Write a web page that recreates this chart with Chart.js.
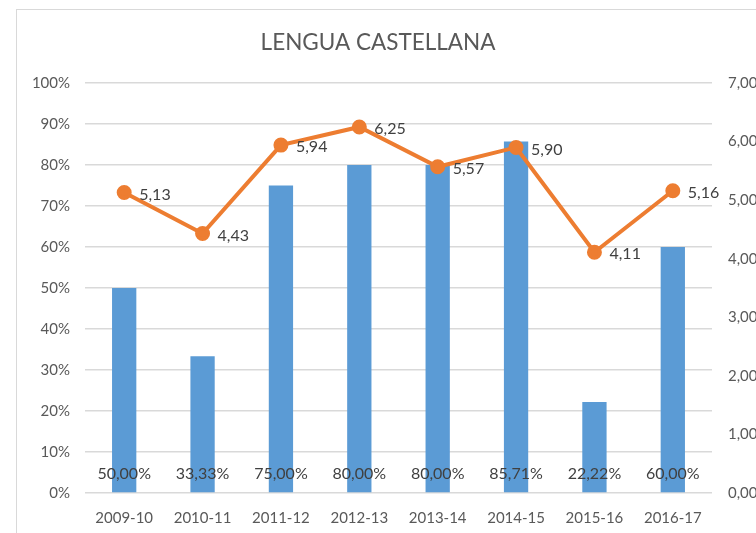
<!DOCTYPE html>
<html><head><meta charset="utf-8">
<script src="https://cdn.jsdelivr.net/npm/chart.js@4"></script>
<style>
html,body{margin:0;padding:0;background:#fff;}
#wrap{position:absolute;left:0;top:0;width:756px;height:533px;}
#frame{position:absolute;left:16px;top:9px;width:760px;height:540px;border:1.5px solid #d9d9d9;box-sizing:border-box;}
canvas{display:block;}
</style></head><body>
<div id="wrap"><div id="frame"></div><canvas id="c" width="756" height="533"></canvas></div>
<script>
const categories = ['2009-10','2010-11','2011-12','2012-13','2013-14','2014-15','2015-16','2016-17'];
const pctValues = [50.00, 33.33, 75.00, 80.00, 80.00, 85.71, 22.22, 60.00];
const gradeValues = [5.13, 4.43, 5.94, 6.25, 5.57, 5.90, 4.11, 5.16];
const leftTicks = [0,10,20,30,40,50,60,70,80,90,100];
const rightTicks = [0,1,2,3,4,5,6,7];

const FONT = 'Lato, "Open Sans", sans-serif';
const fmt = (v,d)=> v.toFixed(d).replace('.',',');

const labelPlugin = {
  id:'labels',
  afterDatasetsDraw(chart){
    const ctx = chart.ctx;
    ctx.save();
    ctx.font = '16px ' + FONT;
    ctx.fillStyle = '#404040';
    const yBottom = chart.scales.y.getPixelForValue(0);
    chart.getDatasetMeta(1).data.forEach((el,i)=>{
      ctx.textAlign='center'; ctx.textBaseline='middle';
      ctx.fillText(fmt(pctValues[i],2)+'%', el.x, yBottom-19);
    });
    chart.getDatasetMeta(0).data.forEach((el,i)=>{
      ctx.textAlign='left'; ctx.textBaseline='middle';
      ctx.fillText(fmt(gradeValues[i],2), el.x+15, el.y+2);
    });
    ctx.restore();
  }
};

new Chart(document.getElementById('c'),{
  data:{
    labels:categories,
    datasets:[
      {type:'line',label:'Nota',data:gradeValues,yAxisID:'y1',borderColor:'#ED7D31',backgroundColor:'#ED7D31',
       borderWidth:4,pointRadius:5.5,pointHoverRadius:5.5,pointBackgroundColor:'#ED7D31',pointBorderColor:'#ED7D31',tension:0,order:0},
      {type:'bar',label:'Aprobados',data:pctValues,yAxisID:'y',backgroundColor:'#5B9BD5',
       barPercentage:0.31,categoryPercentage:1,order:1}
    ]
  },
  options:{
    responsive:false,animation:false,
    layout:{padding:{top:0,bottom:0,left:0,right:0}},
    plugins:{
      legend:{display:false},tooltip:{enabled:false},
      title:{display:true,text:'LENGUA CASTELLANA',color:'#595959',font:{family:FONT,size:22.5,weight:'normal'},padding:{top:29,bottom:27}}
    },
    scales:{
      x:{grid:{display:false},border:{display:false},
         afterFit(s){s.height=40;},
         ticks:{color:'#595959',font:{family:FONT,size:15},padding:8,maxRotation:0}},
      y:{position:'left',min:0,max:100,
         afterBuildTicks(s){s.ticks=leftTicks.map(v=>({value:v}));},
         afterFit(s){s.width=85;},
         grid:{color:'#d9d9d9',lineWidth:1.5,drawTicks:false},border:{display:false},
         ticks:{color:'#595959',font:{family:FONT,size:15},padding:15,callback:v=>v+'%'}},
      y1:{position:'right',min:0,max:7,
         afterBuildTicks(s){s.ticks=rightTicks.map(v=>({value:v}));},
         afterFit(s){s.width=44;},
         grid:{display:false,drawTicks:false},border:{display:false},
         ticks:{color:'#595959',font:{family:FONT,size:15},padding:16,callback:v=>fmt(v,2)}}
    }
  },
  plugins:[labelPlugin]
});
</script></body></html>
